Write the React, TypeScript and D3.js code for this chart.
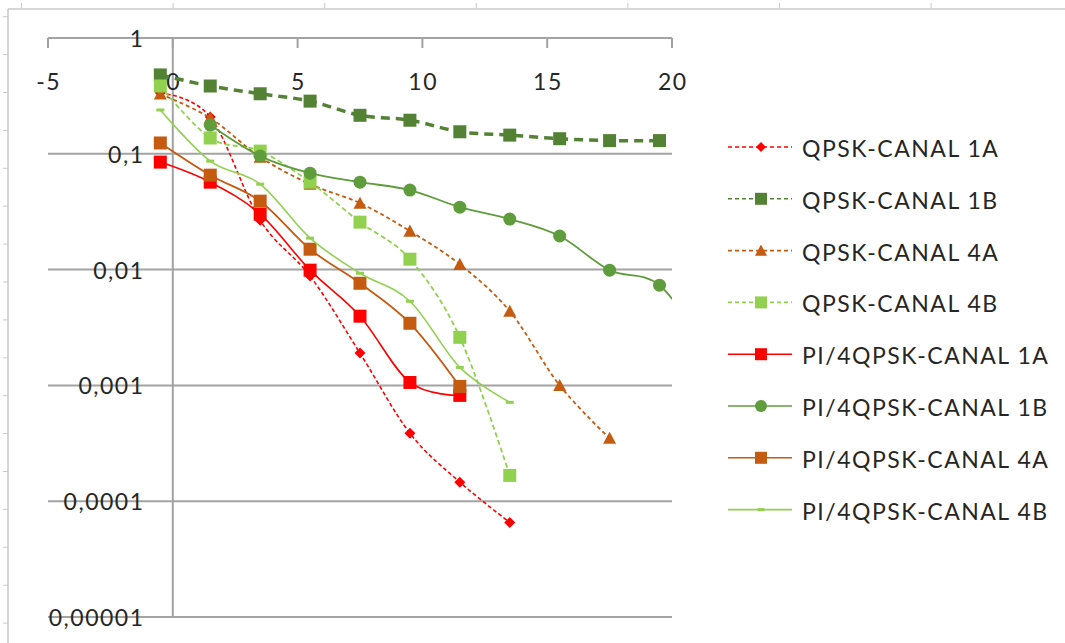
import React, { useRef, useEffect } from 'react';
import * as d3 from 'd3';

// x positions (Eb/N0, dB)
const xQpsk = [-0.5, 1.5, 3.5, 5.5, 7.5, 9.5, 11.5, 13.5, 15.5, 17.5, 19.5];
const xPi1B = [1.5, 3.5, 5.5, 7.5, 9.5, 11.5, 13.5, 15.5, 17.5, 19.5, 21.5];

const qpsk1A = [0.335, 0.208, 0.0267, 0.0088, 0.0019, 0.000386, 0.000146, 0.0000656];
const qpsk1B = [0.48, 0.385, 0.33, 0.285, 0.215, 0.195, 0.155, 0.145, 0.135, 0.13, 0.13];
const qpsk4A = [0.328, 0.204, 0.0936, 0.0547, 0.0375, 0.0215, 0.0111, 0.00437, 0.001, 0.000349];
const qpsk4B = [0.385, 0.137, 0.1055, 0.0569, 0.0257, 0.0123, 0.0026, 0.000167];
const pi1A = [0.0848, 0.0569, 0.0301, 0.00989, 0.00396, 0.00106, 0.00082];
const pi1B = [0.177, 0.0955, 0.068, 0.0569, 0.0486, 0.0346, 0.0273, 0.0195, 0.00989, 0.00733, 0.0019];
const pi4A = [0.124, 0.0654, 0.039, 0.015, 0.00762, 0.00344, 0.00098];
const pi4B = [0.239, 0.0865, 0.0547, 0.0187, 0.0093, 0.00533, 0.00143, 0.000714];

const xTicks = [-5, 0, 5, 10, 15, 20];
const yTicks = [1, 0.1, 0.01, 0.001, 0.0001, 0.00001];
const yTickLabels = ['1', '0,1', '0,01', '0,001', '0,0001', '0,00001'];

type Marker = 'diamond' | 'square' | 'triangle' | 'circle' | 'dash';

type Series = {
  name: string;
  xs: number[];
  ys: number[];
  color: string;
  width: number;
  dash: string | null;
  marker: Marker;
  size: number;
};

const series: Series[] = [
  { name: 'QPSK-CANAL 1A', xs: xQpsk, ys: qpsk1A, color: '#FF0000', width: 1.6, dash: '4,2.5', marker: 'diamond', size: 11 },
  { name: 'QPSK-CANAL 1B', xs: xQpsk, ys: qpsk1B, color: '#548235', width: 3.5, dash: '9,6', marker: 'square', size: 13 },
  { name: 'QPSK-CANAL 4A', xs: xQpsk, ys: qpsk4A, color: '#C55A11', width: 1.8, dash: '4,3', marker: 'triangle', size: 13 },
  { name: 'QPSK-CANAL 4B', xs: xQpsk, ys: qpsk4B, color: '#92D050', width: 1.8, dash: '5,3', marker: 'square', size: 13 },
  { name: 'PI/4QPSK-CANAL 1A', xs: xQpsk, ys: pi1A, color: '#FF0000', width: 1.6, dash: null, marker: 'square', size: 13 },
  { name: 'PI/4QPSK-CANAL 1B', xs: xPi1B, ys: pi1B, color: '#5E9C3C', width: 1.8, dash: null, marker: 'circle', size: 13 },
  { name: 'PI/4QPSK-CANAL 4A', xs: xQpsk, ys: pi4A, color: '#C55A11', width: 1.8, dash: null, marker: 'square', size: 13 },
  { name: 'PI/4QPSK-CANAL 4B', xs: xQpsk, ys: pi4B, color: '#92D050', width: 1.6, dash: null, marker: 'dash', size: 8 },
];

const markerPath = (m: Marker, s: number) => {
  const r = s / 2;
  switch (m) {
    case 'diamond':
      return `M0,${-r}L${r},0L0,${r}L${-r},0Z`;
    case 'square':
      return `M${-r},${-r}H${r}V${r}H${-r}Z`;
    case 'triangle':
      return `M0,${-r}L${r},${r * 0.85}L${-r},${r * 0.85}Z`;
    case 'circle':
      return `M${r},0A${r},${r} 0 1,1 ${-r},0A${r},${r} 0 1,1 ${r},0Z`;
    case 'dash':
      return `M${-r},-1.5H${r}V1.5H${-r}Z`;
  }
};

const FONT = 'Lato, "Open Sans", sans-serif';
const FONT_SIZE = 23;
const SPACING = 1.5;

const App: React.FC = () => {
  const svgRef = useRef<SVGSVGElement>(null);

  useEffect(() => {
    const W = 1065;
    const H = 643;
    const svg = d3.select(svgRef.current).attr('width', W).attr('height', H);
    svg.selectAll('*').remove();

    // outer frame with faint ruler ticks
    const frame = svg.append('g').attr('stroke', '#c9c9c9').attr('stroke-width', 1.5);
    frame.append('line').attr('x1', 8).attr('x2', W).attr('y1', 9).attr('y2', 9);
    frame.append('line').attr('x1', 8).attr('x2', 8).attr('y1', 9).attr('y2', H);
    d3.range(21.5, W, 151.6).forEach((x) => {
      frame.append('line').attr('x1', x).attr('x2', x).attr('y1', 3).attr('y2', 8).attr('stroke-width', 1);
    });
    d3.range(16.7, H, 37.9).forEach((y) => {
      frame.append('line').attr('x1', 3).attr('x2', 8).attr('y1', y).attr('y2', y).attr('stroke-width', 1);
    });

    const x = d3.scaleLinear().domain([-5, 20]).range([48, 672]);
    const y = d3.scaleLog().domain([0.00001, 1]).range([617, 38]);

    // gridlines
    svg
      .append('g')
      .selectAll('line')
      .data(yTicks)
      .join('line')
      .attr('x1', x(-5))
      .attr('x2', x(20))
      .attr('y1', (d) => y(d))
      .attr('y2', (d) => y(d))
      .attr('stroke', '#a3a3a3')
      .attr('stroke-width', 2);

    // vertical axis at x = 0
    svg
      .append('line')
      .attr('x1', x(0))
      .attr('x2', x(0))
      .attr('y1', y(1))
      .attr('y2', y(0.00001))
      .attr('stroke', '#a3a3a3')
      .attr('stroke-width', 2);

    // top x axis ticks
    svg
      .append('g')
      .selectAll('line')
      .data(xTicks)
      .join('line')
      .attr('x1', (d) => x(d))
      .attr('x2', (d) => x(d))
      .attr('y1', y(1))
      .attr('y2', y(1) + 10)
      .attr('stroke', '#a3a3a3')
      .attr('stroke-width', 2);

    svg
      .append('g')
      .selectAll('text')
      .data(xTicks)
      .join('text')
      .attr('x', (d) => x(d) + SPACING / 2)
      .attr('y', 81)
      .attr('text-anchor', 'middle')
      .attr('dominant-baseline', 'central')
      .attr('font-family', FONT)
      .attr('font-size', FONT_SIZE)
      .attr('letter-spacing', SPACING)
      .attr('fill', '#262626')
      .text((d) => String(d));

    svg
      .append('g')
      .selectAll('text')
      .data(yTicks)
      .join('text')
      .attr('x', 143 + SPACING)
      .attr('y', (d) => y(d))
      .attr('text-anchor', 'end')
      .attr('dominant-baseline', 'central')
      .attr('font-family', FONT)
      .attr('font-size', FONT_SIZE)
      .attr('letter-spacing', SPACING)
      .attr('fill', '#262626')
      .text((d, i) => yTickLabels[i]);

    svg
      .append('clipPath')
      .attr('id', 'plot-clip')
      .append('rect')
      .attr('x', x(-5))
      .attr('y', 0)
      .attr('width', x(20) - x(-5))
      .attr('height', 630);

    const plot = svg.append('g').attr('clip-path', 'url(#plot-clip)');

    const line = d3
      .line<[number, number]>()
      .x((d) => x(d[0]))
      .y((d) => y(d[1]))
      .curve(d3.curveCardinal.tension(0));

    series.forEach((s) => {
      const pts: [number, number][] = s.ys.map((v, i) => [s.xs[i], v]);
      const g = plot.append('g');
      g.append('path')
        .datum(pts)
        .attr('fill', 'none')
        .attr('stroke', s.color)
        .attr('stroke-width', s.width)
        .attr('stroke-dasharray', s.dash)
        .attr('stroke-linejoin', 'round')
        .attr('d', line);
      g.selectAll('path.m')
        .data(pts.filter((p) => p[0] <= 20))
        .join('path')
        .attr('class', 'm')
        .attr('transform', (d) => `translate(${x(d[0])},${y(d[1])})`)
        .attr('d', markerPath(s.marker, s.size))
        .attr('fill', s.color);
    });

    // legend
    const legend = svg.append('g').attr('transform', 'translate(728,147)');
    series.forEach((s, i) => {
      const row = legend.append('g').attr('transform', `translate(0,${i * 51.8})`);
      row
        .append('line')
        .attr('x1', 0)
        .attr('x2', 64)
        .attr('stroke', s.color)
        .attr('stroke-width', 1.6)
        .attr('stroke-dasharray', s.dash ? '4,3' : null);
      row
        .append('path')
        .attr('transform', 'translate(33,0)')
        .attr('d', markerPath(s.marker, s.marker === 'dash' ? 7 : s.size - 1))
        .attr('fill', s.color);
      row
        .append('text')
        .attr('x', 74)
        .attr('y', 1)
        .attr('dominant-baseline', 'central')
        .attr('font-family', FONT)
        .attr('font-size', FONT_SIZE)
        .attr('letter-spacing', SPACING)
        .attr('fill', '#262626')
        .text(s.name);
    });
  }, []);

  return (
    <div style={{ position: 'absolute', left: 0, top: 0 }}>
      <svg ref={svgRef} style={{ display: 'block', background: '#fff' }} />
    </div>
  );
};

export default App;
